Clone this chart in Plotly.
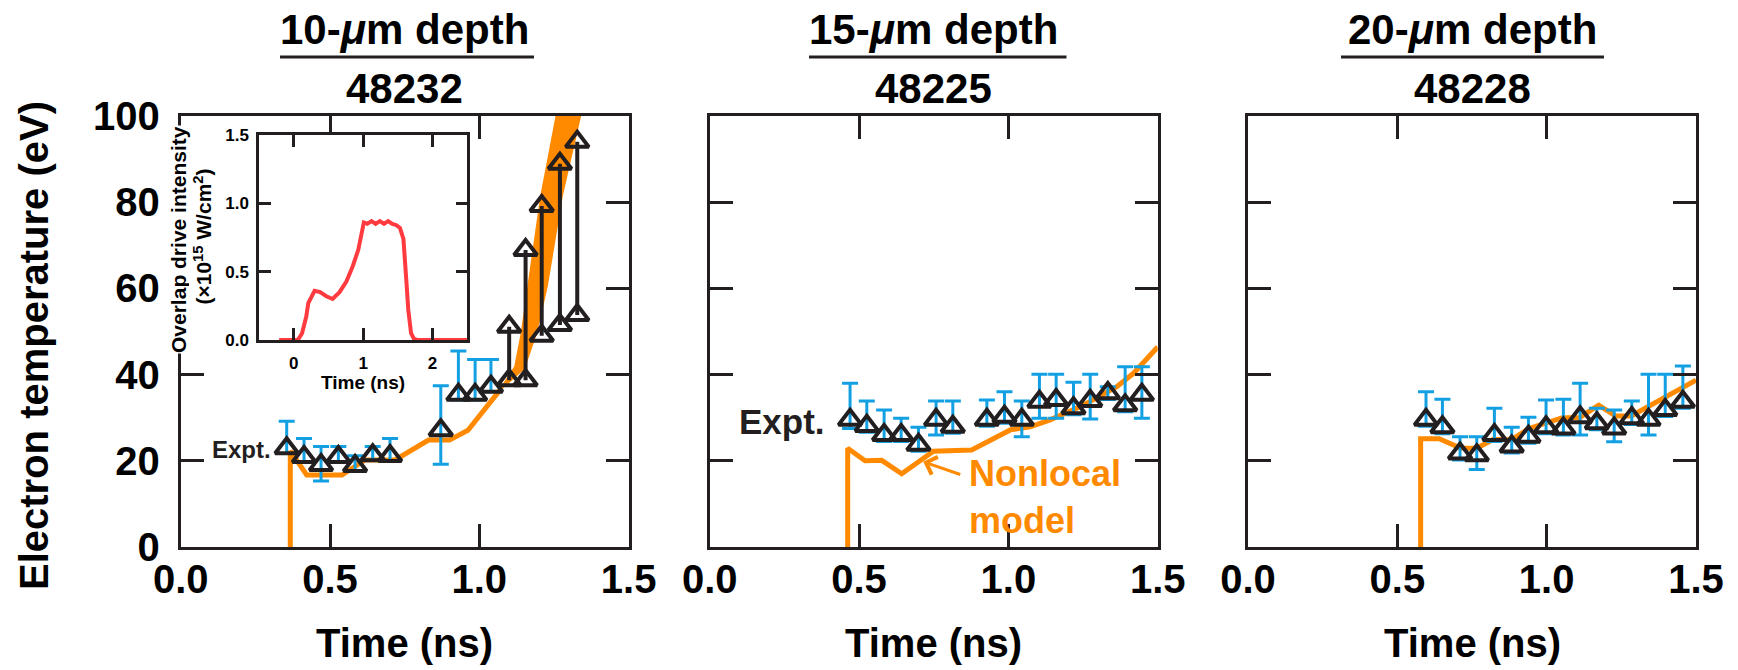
import plotly.graph_objects as go

W, H = 1738, 670

ORANGE = "#FF8A00"
BLUE = "#12A0E3"
BLACK = "#231F20"
RED = "#FF3B3F"
FONT = "Liberation Sans, Arial, Helvetica, sans-serif"

# ------------------------------------------------------------------ data
# Panel 1: 10-um depth, shot 48232
p1_t = [0.355, 0.413, 0.470, 0.528, 0.584, 0.643, 0.701, 0.871, 0.930, 0.986, 1.039]
p1_T = [22.9, 20.9, 19.0, 20.9, 18.8, 21.3, 21.1, 27.1, 35.3, 35.3, 37.2]
p1_err_plus = [6.3, 4.3, 4.3, 2.4, 2.4, 2.0, 4.1, 10.3, 10.2, 8.2, 6.3]
p1_err_minus = [1.2, 1.2, 3.7, 1.2, 1.2, 1.2, 1.2, 7.9, 1.2, 1.2, 1.2]
p1_range_t = [1.100, 1.155, 1.209, 1.270, 1.328]
p1_range_lo = [38.7, 38.7, 49.0, 51.5, 53.8]
p1_range_hi = [51.1, 68.9, 79.1, 88.9, 94.0]
p1_model_t = [0.367, 0.367, 0.422, 0.540, 0.617, 0.718, 0.830, 0.900, 0.962, 1.025, 1.069]
p1_model_T = [0.0, 22.3, 16.7, 16.7, 20.2, 20.2, 24.8, 24.8, 27.1, 32.6, 36.4]
p1_band_hi_t = [1.069, 1.120, 1.142, 1.164, 1.207, 1.258, 1.290]
p1_band_hi_T = [36.4, 41.8, 49.6, 60.4, 81.3, 99.8, 112.0]
p1_band_lo_t = [1.069, 1.150, 1.190, 1.226, 1.276, 1.337, 1.370]
p1_band_lo_T = [36.4, 41.5, 49.6, 60.4, 81.3, 99.8, 111.0]

# Panel 2: 15-um depth, shot 48225
p2_t = [0.470, 0.526, 0.584, 0.641, 0.699, 0.758, 0.814, 0.928, 0.987, 1.045,
        1.104, 1.160, 1.218, 1.274, 1.333, 1.391, 1.447]
p2_T = [29.5, 28.1, 26.0, 26.0, 23.7, 29.5, 27.9, 29.5, 30.2, 29.5,
        33.7, 34.1, 32.2, 33.9, 35.7, 32.9, 35.3]
p2_err_plus = [8.5, 5.8, 5.8, 3.9, 4.1, 4.4, 6.0, 4.6, 5.8, 4.4,
               6.4, 6.0, 6.0, 6.2, 1.5, 8.9, 6.5]
p2_err_minus = [2.0, 1.5, 1.5, 1.5, 1.5, 3.5, 1.5, 1.5, 1.5, 3.9,
                3.8, 4.2, 1.5, 4.2, 1.5, 1.5, 5.4]
p2_model_t = [0.462, 0.462, 0.520, 0.576, 0.643, 0.749, 0.877, 1.008, 1.073,
              1.140, 1.251, 1.363, 1.419, 1.500]
p2_model_T = [0.0, 22.9, 20.0, 20.1, 17.0, 22.2, 22.5, 27.2, 27.9,
              29.5, 32.9, 37.2, 40.3, 46.4]

# Panel 3: 20-um depth, shot 48228
p3_t = [0.596, 0.651, 0.710, 0.766, 0.825, 0.883, 0.939, 0.998, 1.056, 1.112,
        1.168, 1.226, 1.285, 1.341, 1.397, 1.456]
p3_T = [29.5, 27.8, 21.7, 21.3, 26.0, 23.3, 25.6, 27.8, 27.5, 30.1,
        28.7, 27.5, 29.9, 29.5, 31.8, 33.7]
p3_err_plus = [6.5, 6.5, 3.9, 4.3, 6.2, 4.5, 4.5, 6.3, 6.8, 7.9,
               3.5, 4.3, 4.0, 10.6, 8.3, 8.3]
p3_err_minus = [1.5, 1.5, 1.5, 3.3, 1.5, 1.5, 1.5, 1.5, 1.5, 4.1,
                1.5, 3.1, 1.5, 3.5, 1.5, 1.5]
p3_model_t = [0.578, 0.578, 0.640, 0.713, 0.766, 0.822, 0.883, 0.941, 1.053,
              1.110, 1.174, 1.231, 1.283, 1.394, 1.500]
p3_model_T = [0.0, 25.1, 25.1, 22.9, 22.9, 25.0, 24.9, 27.5, 30.0,
              30.0, 32.9, 30.4, 30.4, 34.7, 38.7]

# Inset: overlap drive intensity (x1e15 W/cm^2) vs time (ns)
pulse_t = [-0.21, 0.06, 0.12, 0.18, 0.21, 0.30, 0.38, 0.47, 0.56, 0.66, 0.76, 0.85,
           0.93, 0.97, 1.01, 1.06, 1.12, 1.18, 1.24, 1.30, 1.36, 1.42, 1.48, 1.53,
           1.58, 1.62, 1.65, 1.69, 1.73, 1.78, 2.50]
pulse_I = [0.0, 0.0, 0.05, 0.17, 0.27, 0.36, 0.35, 0.32, 0.30, 0.35, 0.43, 0.54,
           0.66, 0.76, 0.86, 0.85, 0.87, 0.85, 0.87, 0.85, 0.87, 0.85, 0.84, 0.82,
           0.74, 0.45, 0.22, 0.05, 0.01, 0.0, 0.0]

titles = ["10-<i>\u03bc</i>m depth", "15-<i>\u03bc</i>m depth", "20-<i>\u03bc</i>m depth"]
shots = ["48232", "48225", "48228"]
x_ticks = [0.0, 0.5, 1.0, 1.5]
x_ticktext = ["0.0", "0.5", "1.0", "1.5"]
y_ticks = [0, 20, 40, 60, 80, 100]
inset_xticks = [0, 1, 2]
inset_yticks = [0.0, 0.5, 1.0, 1.5]
inset_yticktext = ["0.0", "0.5", "1.0", "1.5"]

# ------------------------------------------------------------------ layout helpers
def px_x(p):
    return p / W


def px_y(p):
    return 1 - p / H


panels_px = [(180.7, 628.6), (709.7, 1157.7), (1248.0, 1696.0)]
top_px, bot_px = 116.0, 547.0

fig = go.Figure()

marker_style = dict(symbol="triangle-up-open", size=20, color=BLACK,
                    line=dict(width=4, color=BLACK))


def err(plus, minus):
    return dict(type="data", symmetric=False, array=plus, arrayminus=minus,
                color=BLUE, thickness=3, width=8)


# Panel 1 traces
fig.add_trace(go.Scatter(x=p1_band_hi_t + p1_band_lo_t[::-1],
                         y=p1_band_hi_T + p1_band_lo_T[::-1],
                         fill="toself", fillcolor=ORANGE, mode="lines",
                         line=dict(color=ORANGE, width=2),
                         xaxis="x", yaxis="y", showlegend=False, hoverinfo="skip"))
fig.add_trace(go.Scatter(x=p1_model_t, y=p1_model_T, mode="lines",
                         line=dict(color=ORANGE, width=5),
                         xaxis="x", yaxis="y", showlegend=False))
seg_x, seg_y = [], []
for t, lo, hi in zip(p1_range_t, p1_range_lo, p1_range_hi):
    seg_x += [t, t, None]
    seg_y += [lo, hi, None]
fig.add_trace(go.Scatter(x=seg_x, y=seg_y, mode="lines",
                         line=dict(color=BLACK, width=4),
                         xaxis="x", yaxis="y", showlegend=False))
fig.add_trace(go.Scatter(x=p1_range_t + p1_range_t, y=p1_range_lo + p1_range_hi,
                         mode="markers", marker=marker_style,
                         xaxis="x", yaxis="y", showlegend=False))
fig.add_trace(go.Scatter(x=p1_t, y=p1_T, mode="markers", marker=marker_style,
                         error_y=err(p1_err_plus, p1_err_minus),
                         xaxis="x", yaxis="y", showlegend=False))

# Panel 2 traces
fig.add_trace(go.Scatter(x=p2_model_t, y=p2_model_T, mode="lines",
                         line=dict(color=ORANGE, width=5),
                         xaxis="x2", yaxis="y2", showlegend=False))
fig.add_trace(go.Scatter(x=p2_t, y=p2_T, mode="markers", marker=marker_style,
                         error_y=err(p2_err_plus, p2_err_minus),
                         xaxis="x2", yaxis="y2", showlegend=False))

# Panel 3 traces
fig.add_trace(go.Scatter(x=p3_model_t, y=p3_model_T, mode="lines",
                         line=dict(color=ORANGE, width=5),
                         xaxis="x3", yaxis="y3", showlegend=False))
fig.add_trace(go.Scatter(x=p3_t, y=p3_T, mode="markers", marker=marker_style,
                         error_y=err(p3_err_plus, p3_err_minus),
                         xaxis="x3", yaxis="y3", showlegend=False))

# Inset trace
fig.add_trace(go.Scatter(x=pulse_t, y=pulse_I, mode="lines",
                         line=dict(color=RED, width=4),
                         xaxis="x4", yaxis="y4", showlegend=False))

big_font = dict(family=FONT, size=40, color="black", weight="bold")
title_font = dict(family=FONT, size=42, color="black", weight="bold")

axis_common = dict(showline=True, linewidth=3, linecolor=BLACK, mirror="ticks",
                   ticks="inside", ticklen=23, tickwidth=3, tickcolor=BLACK,
                   showgrid=False, zeroline=False, tickfont=big_font)

layout = dict(width=W, height=H, margin=dict(l=0, r=0, t=0, b=0, autoexpand=False),
              paper_bgcolor="white", plot_bgcolor="white", autosize=False,
              showlegend=False)

for i, (l, r) in enumerate(panels_px):
    sx = "" if i == 0 else str(i + 1)
    layout["xaxis" + sx] = dict(axis_common, domain=[px_x(l), px_x(r)], range=[0, 1.5],
                                tickvals=x_ticks, ticktext=x_ticktext,
                                ticklabelstandoff=-5, anchor="y" + sx)
    layout["yaxis" + sx] = dict(axis_common, domain=[px_y(bot_px), px_y(top_px)],
                                range=[0, 100], tickvals=y_ticks,
                                showticklabels=(i == 0), ticklabelstandoff=10,
                                anchor="x" + sx)

small_font = dict(family=FONT, size=17, color="black", weight="bold")
inset_common = dict(showline=True, linewidth=2.5, linecolor=BLACK, mirror="ticks",
                    ticks="inside", ticklen=12, tickwidth=2.5, tickcolor=BLACK,
                    showgrid=False, zeroline=False, tickfont=small_font)
layout["xaxis4"] = dict(inset_common, domain=[px_x(259.0), px_x(467.3)], range=[-0.5, 2.5],
                        tickvals=inset_xticks, ticklabelstandoff=6, anchor="y4")
layout["yaxis4"] = dict(inset_common, domain=[px_y(340.0), px_y(135.0)], range=[0, 1.5],
                        tickvals=inset_yticks, ticktext=inset_yticktext,
                        ticklabelstandoff=4, anchor="x4")

fig.update_layout(**layout)

annotations = []
shapes = []
underline_px = [(280.0, 534.0), (809.0, 1066.5), (1341.0, 1604.0)]
for i, (l, r) in enumerate(panels_px):
    cx = (l + r) / 2
    annotations.append(dict(text=titles[i], x=px_x(cx), y=px_y(29), xref="paper", yref="paper",
                            xanchor="center", yanchor="middle", showarrow=False,
                            font=title_font))
    annotations.append(dict(text=shots[i], x=px_x(cx), y=px_y(89), xref="paper", yref="paper",
                            xanchor="center", yanchor="middle", showarrow=False,
                            font=title_font))
    annotations.append(dict(text="Time (ns)", x=px_x(cx), y=px_y(643), xref="paper",
                            yref="paper", xanchor="center", yanchor="middle",
                            showarrow=False, font=big_font))
    ul, ur = underline_px[i]
    shapes.append(dict(type="line", xref="paper", yref="paper", x0=px_x(ul), x1=px_x(ur),
                       y0=px_y(57), y1=px_y(57), line=dict(color=BLACK, width=3)))

annotations.append(dict(text="Electron temperature (eV)", x=px_x(34), y=px_y(346),
                        xref="paper", yref="paper", xanchor="center", yanchor="middle",
                        textangle=-90, showarrow=False, font=big_font))

# Expt. labels
annotations.append(dict(text="Expt.", x=0.309, y=22.7, xref="x", yref="y",
                        xanchor="right", yanchor="middle", showarrow=False,
                        font=dict(family=FONT, size=24, color=BLACK, weight="bold")))
annotations.append(dict(text="Expt.", x=0.392, y=29.2, xref="x2", yref="y2",
                        xanchor="right", yanchor="middle", showarrow=False,
                        font=dict(family=FONT, size=35, color=BLACK, weight="bold")))

# Nonlocal model label + arrow
annotations.append(dict(text="Nonlocal<br>model", x=0.862, y=11.7, xref="x2", yref="y2",
                        xanchor="left", yanchor="middle", align="left", showarrow=False,
                        font=dict(family=FONT, size=36, color=ORANGE, weight="bold")))
annotations.append(dict(text="", x=0.715, y=19.8, xref="x2", yref="y2",
                        ax=0.844, ay=16.7, axref="x2", ayref="y2", showarrow=True,
                        arrowhead=4, arrowsize=1.2, arrowwidth=3, arrowcolor=ORANGE,
                        standoff=0))

# Inset axis titles
annotations.append(dict(text="Time (ns)", x=px_x(363), y=px_y(382), xref="paper",
                        yref="paper", xanchor="center", yanchor="middle", showarrow=False,
                        font=dict(family=FONT, size=19, color="black", weight="bold")))
inset_title_font = dict(family=FONT, size=21, color="black", weight="bold")
annotations.append(dict(text="Overlap drive intensity",
                        x=px_x(179), y=px_y(240), xref="paper", yref="paper",
                        xanchor="center", yanchor="middle", textangle=-90, showarrow=False,
                        bgcolor="white", borderpad=0, font=inset_title_font))
annotations.append(dict(text="(\u00d710<sup>15</sup> W/cm<sup>2</sup>)",
                        x=px_x(202.5), y=px_y(237), xref="paper", yref="paper",
                        xanchor="center", yanchor="middle", textangle=-90, showarrow=False,
                        bgcolor="white", borderpad=0, font=inset_title_font))

fig.update_layout(annotations=annotations, shapes=shapes)

fig.write_html("out.html")
